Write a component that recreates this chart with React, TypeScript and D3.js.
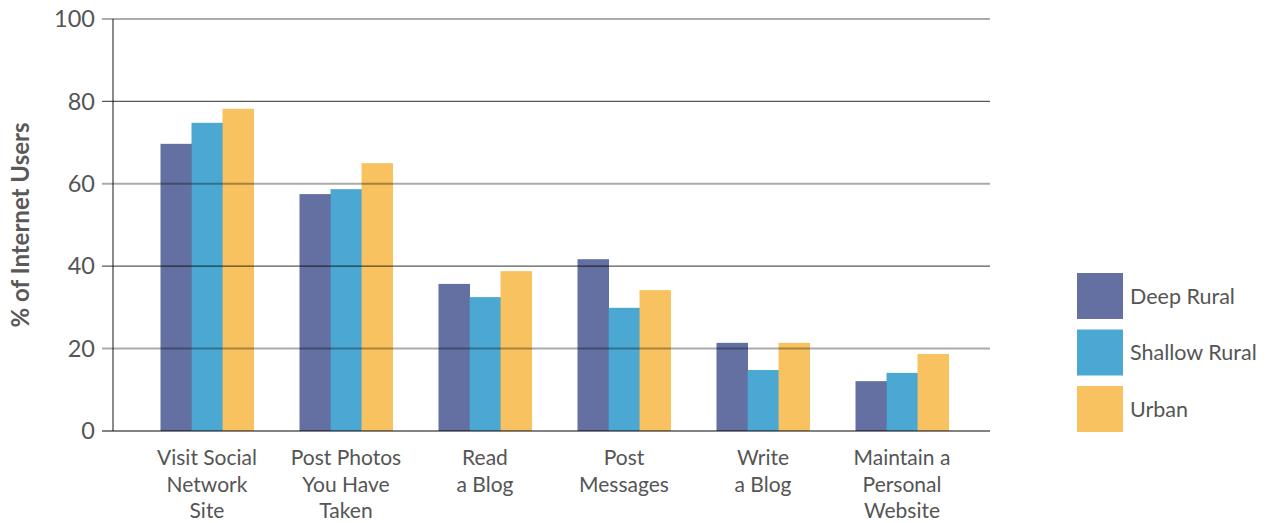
import React from "react";
import * as d3 from "d3";

const categories = [
  ["Visit Social", "Network", "Site"],
  ["Post Photos", "You Have", "Taken"],
  ["Read", "a Blog"],
  ["Post", "Messages"],
  ["Write", "a Blog"],
  ["Maintain a", "Personal", "Website"],
];
const seriesNames = ["Deep Rural", "Shallow Rural", "Urban"];
const deepRural = [69.7, 57.5, 35.7, 41.7, 21.4, 12.1];
const shallowRural = [74.8, 58.7, 32.5, 29.9, 14.8, 14.1];
const urban = [78.2, 65.0, 38.8, 34.2, 21.4, 18.7];
const yTicks = [0, 20, 40, 60, 80, 100];
const colors = ["#546098", "#379fce", "#f6bb4e"];

const W = 1270;
const H = 523;
const FONT = "Lato, 'Open Sans', sans-serif";

export default function App() {
  const series = [deepRural, shallowRural, urban];
  const x = d3
    .scaleBand<number>()
    .domain(d3.range(categories.length))
    .range([137.5, 971.5]);
  const y = d3.scaleLinear().domain([0, 100]).range([431, 19]);
  const barW = 31;
  const plotL = 113;
  const plotR = 990;

  return (
    <svg
      width={W}
      height={H}
      style={{ position: "fixed", left: 0, top: 0, background: "#fff" }}
      fontFamily={FONT}
    >
      {categories.map((_, i) => {
        const c = (x(i) as number) + x.bandwidth() / 2;
        return series.map((s, j) => (
          <rect
            key={`${i}-${j}`}
            x={c - (barW * 3) / 2 + j * barW}
            y={y(s[i])}
            width={barW + 0.5}
            height={y(0) - y(s[i])}
            fill={colors[j]}
            opacity={0.9}
          />
        ));
      })}
      {yTicks.map((t) => {
        const dark = t === 0 || t === 40 || t === 80;
        return (
          <line
            key={t}
            x1={plotL - 11}
            x2={plotR}
            y1={y(t)}
            y2={y(t)}
            stroke={dark ? "rgba(0,0,0,0.65)" : "rgba(0,0,0,0.33)"}
            strokeWidth={dark ? (t === 0 ? 1.6 : 1.2) : 2}
          />
        );
      })}
      <line
        x1={plotL}
        x2={plotL}
        y1={y(100)}
        y2={y(0)}
        stroke="rgba(0,0,0,0.65)"
        strokeWidth={1.4}
      />
      {yTicks.map((t) => (
        <text
          key={t}
          x={95}
          y={y(t)}
          dy="0.35em"
          textAnchor="end"
          fontSize={23.5}
          fill="#555"
        >
          {t}
        </text>
      ))}
      <text
        transform={`translate(29,${225}) rotate(-90)`}
        textAnchor="middle"
        fontSize={24}
        fontWeight="bold"
        fill="#595959"
      >
        % of Internet Users
      </text>
      {categories.map((lines, i) => {
        const c = (x(i) as number) + x.bandwidth() / 2;
        return (
          <text key={i} textAnchor="middle" fontSize={21} fill="#555">
            {lines.map((l, k) => (
              <tspan key={k} x={c} y={465 + k * 26.5}>
                {l}
              </tspan>
            ))}
          </text>
        );
      })}
      {seriesNames.map((n, j) => {
        const ly = 273 + j * 56.5;
        return (
          <g key={n}>
            <rect x={1077} y={ly} width={46} height={46} fill={colors[j]} opacity={0.9} />
            <text x={1130} y={ly + 23} dy="0.35em" fontSize={21.5} fill="#555">
              {n}
            </text>
          </g>
        );
      })}
    </svg>
  );
}
